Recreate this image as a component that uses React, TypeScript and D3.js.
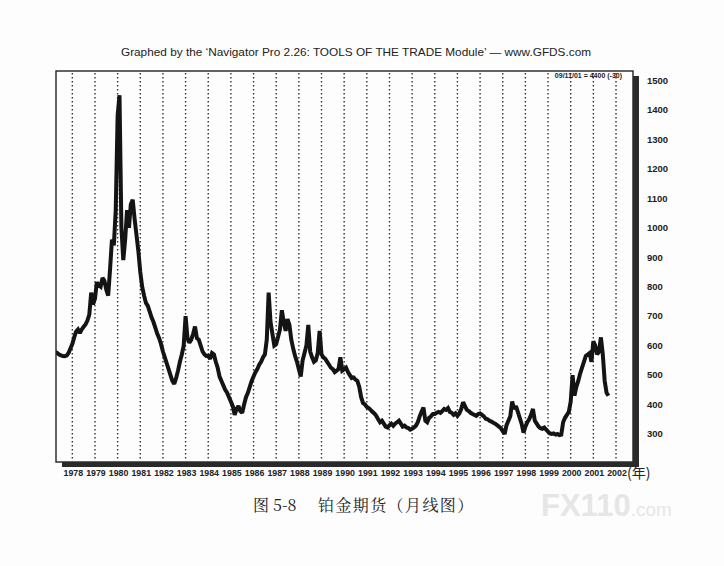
import React, { useRef, useEffect } from 'react';
import * as d3 from 'd3';

// monthly platinum futures, first value = April 1977
const startYear = 1977;
const startMonth = 3;

const prices1977to1979 = [
  578, 575, 570, 567, 565, 564, 566, 575, 590,
  605, 628, 648, 655, 642, 655, 664, 672, 685, 705, 780, 740,
  760, 815, 805, 800, 830, 820, 790, 770, 860, 960, 940, 1060,
];
const prices1980to1984 = [
  1380, 1450, 1000, 890, 960, 1060, 1000, 1080, 1095, 1030, 975, 920,
  850, 800, 770, 745, 735, 715, 695, 680, 660, 640, 625, 605,
  580, 560, 540, 520, 500, 480, 470, 490, 515, 545, 570, 600,
  700, 625, 610, 620, 640, 665, 625, 620, 600, 580, 570, 565,
  565, 555, 575, 570, 545, 525, 495, 480, 465, 450, 440, 425,
];
const prices1985to1989 = [
  410, 395, 365, 385, 395, 378, 372, 400, 425, 440, 460, 480,
  495, 510, 520, 535, 545, 560, 570, 620, 780, 680, 640, 600,
  605, 630, 655, 720, 680, 650, 690, 670, 620, 590, 565, 545,
  520, 495, 550, 575, 600, 670, 580, 560, 545, 550, 575, 650,
  570, 560, 555, 545, 535, 525, 520, 510, 515, 520, 560, 515,
];
const prices1990to1994 = [
  520, 525, 510, 500, 490, 492, 485, 480, 460, 425, 405, 400,
  392, 388, 382, 375, 370, 362, 350, 340, 345, 335, 325, 322,
  330, 335, 328, 335, 340, 345, 335, 325, 328, 322, 320, 315,
  318, 322, 328, 340, 360, 375, 390, 345, 340, 355, 360, 368,
  368, 372, 375, 372, 378, 385, 382, 388, 375, 372, 365, 370,
];
const prices1995to1999 = [
  362, 370, 385, 408, 395, 382, 378, 372, 368, 365, 362, 368,
  370, 365, 360, 352, 350, 345, 342, 338, 335, 330, 325, 320,
  310, 300, 330, 345, 360, 410, 385, 395, 375, 355, 335, 305,
  325, 340, 350, 365, 385, 345, 335, 325, 320, 318, 322, 315,
  308, 302, 300, 302, 298, 300, 296, 298, 340, 355, 365, 375,
];
const prices2000to2001 = [
  410, 500, 430, 460, 480, 505, 525, 545, 565, 570, 575, 545,
  615, 600, 570, 580, 628, 570, 480, 440, 430,
];

const yearLabels = d3.range(1978, 2003);
const priceTicks = d3.range(300, 1501, 100);

const titleText = 'Graphed by the \u2018Navigator Pro 2.26: TOOLS OF THE TRADE Module\u2019 \u2014 www.GFDS.com';
const lastQuote = '09/11/01 = 4400 (-30)';
const captionNumber = '图 5-8';
const captionTitle = '铂金期货（月线图）';

const W = 724;
const H = 566;

const Chart: React.FC = () => {
  const svgRef = useRef<SVGSVGElement>(null);

  useEffect(() => {
    const svg = d3.select(svgRef.current);
    svg.selectAll('*').remove();

    const frame = { left: 56, top: 71, right: 633, bottom: 462 };

    const x = d3.scaleLinear().domain([1977.28, 2002.75]).range([frame.left, frame.right]);
    const y = d3.scaleLinear().domain([205, 1532]).range([frame.bottom, frame.top]);

    const values = [
      ...prices1977to1979,
      ...prices1980to1984,
      ...prices1985to1989,
      ...prices1990to1994,
      ...prices1995to1999,
      ...prices2000to2001,
    ];
    const series = values.map((v, i) => ({ t: startYear + (startMonth + i) / 12, v }));

    svg.append('rect').attr('width', W).attr('height', H).attr('fill', '#fdfdfd');

    svg.append('text')
      .attr('x', 356).attr('y', 56)
      .attr('text-anchor', 'middle')
      .style('font-family', '"Liberation Sans", Arial, sans-serif')
      .style('font-size', '11.8px')
      .attr('fill', '#222')
      .text(titleText);

    // dotted year grid
    svg.append('g')
      .selectAll('line')
      .data(yearLabels)
      .join('line')
      .attr('x1', d => x(d)).attr('x2', d => x(d))
      .attr('y1', frame.top + 2).attr('y2', frame.bottom - 1)
      .attr('stroke', '#333')
      .attr('stroke-width', 1.4)
      .attr('stroke-dasharray', '1.4,2.6');

    const clipId = 'plot-clip';
    svg.append('clipPath').attr('id', clipId)
      .append('rect')
      .attr('x', frame.left).attr('y', frame.top)
      .attr('width', frame.right - frame.left).attr('height', frame.bottom - frame.top);

    const line = d3.line<{ t: number; v: number }>()
      .x(d => x(d.t))
      .y(d => y(d.v));

    svg.append('path')
      .datum(series)
      .attr('clip-path', `url(#${clipId})`)
      .attr('fill', 'none')
      .attr('stroke', '#141414')
      .attr('stroke-width', 4)
      .attr('stroke-linejoin', 'miter')
      .attr('stroke-miterlimit', 2)
      .attr('d', line);

    // frame with drop shadow on the right and bottom
    svg.append('rect')
      .attr('x', frame.left).attr('y', frame.top)
      .attr('width', frame.right - frame.left).attr('height', frame.bottom - frame.top)
      .attr('fill', 'none')
      .attr('stroke', '#222')
      .attr('stroke-width', 1.4);
    svg.append('rect')
      .attr('x', frame.right).attr('y', frame.top + 5)
      .attr('width', 6).attr('height', frame.bottom - frame.top)
      .attr('fill', '#2a2a2a');
    svg.append('rect')
      .attr('x', frame.left + 6).attr('y', frame.bottom)
      .attr('width', frame.right - frame.left).attr('height', 5)
      .attr('fill', '#2a2a2a');

    svg.append('text')
      .attr('x', 622).attr('y', 78)
      .attr('text-anchor', 'end')
      .style('font-family', '"Liberation Sans", Arial, sans-serif')
      .style('font-size', '7px')
      .style('font-weight', 'bold')
      .attr('fill', '#222')
      .text(lastQuote);

    // price axis on the right
    svg.append('g')
      .selectAll('text')
      .data(priceTicks)
      .join('text')
      .attr('x', 647)
      .attr('y', d => y(d))
      .attr('dy', '0.35em')
      .style('font-family', '"Liberation Sans", Arial, sans-serif')
      .style('font-size', '9.5px')
      .style('font-weight', 'bold')
      .attr('fill', '#222')
      .text(d => d);

    // year labels
    svg.append('g')
      .selectAll('text')
      .data(yearLabels)
      .join('text')
      .attr('x', d => x(d) + 1)
      .attr('y', 476)
      .attr('text-anchor', 'middle')
      .style('font-family', '"Liberation Sans", Arial, sans-serif')
      .style('font-size', '8.8px')
      .style('font-weight', 'bold')
      .attr('fill', '#222')
      .text(d => d);

    svg.append('text')
      .attr('x', 627).attr('y', 478)
      .style('font-family', '"Noto Sans CJK SC", sans-serif')
      .style('font-size', '14px')
      .attr('fill', '#222')
      .text('(年)');

    const cap = svg.append('text')
      .attr('y', 511)
      .style('font-family', '"Noto Serif CJK SC", "Noto Sans CJK SC", serif')
      .style('font-size', '16px')
      .attr('fill', '#222');
    cap.append('tspan').attr('x', 253).text(captionNumber);
    cap.append('tspan').attr('x', 318).style('letter-spacing', '1.4px').text(captionTitle);

    // faint site watermark
    const mark = svg.append('text')
      .attr('x', 541).attr('y', 516)
      .style('font-family', '"Liberation Sans", Arial, sans-serif')
      .style('font-weight', 'bold')
      .attr('fill', '#e6e6e6');
    mark.append('tspan').style('font-size', '31px').text('FX110');
    mark.append('tspan').style('font-size', '19px').style('font-weight', 'normal').text('.com');
  }, []);

  return <svg ref={svgRef} width={W} height={H} style={{ position: 'absolute', left: 0, top: 0 }} />;
};

export default function App() {
  return <Chart />;
}
